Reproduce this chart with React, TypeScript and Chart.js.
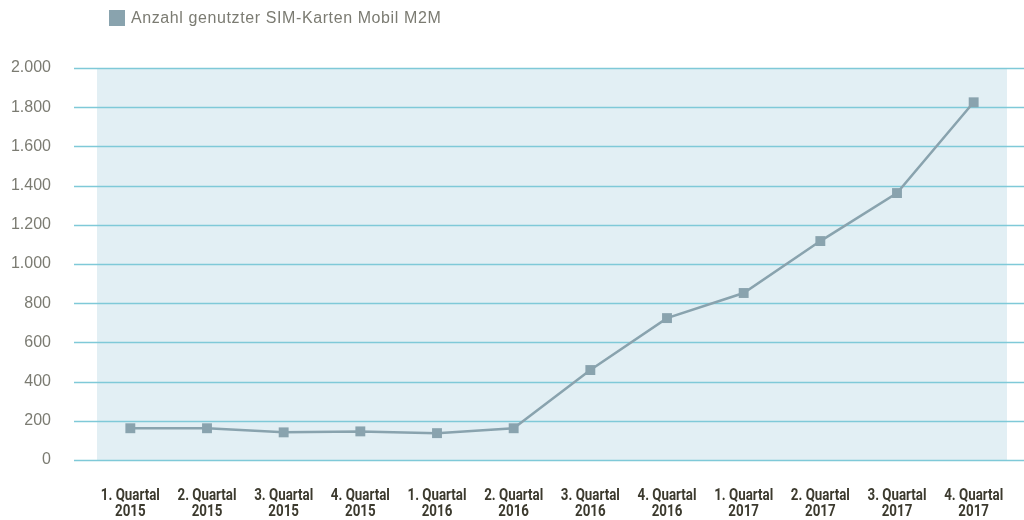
import React, { useEffect, useRef } from "react";
import { Chart, registerables } from "chart.js";

Chart.register(...registerables);

const categories: string[][] = [
  ["1. Quartal", "2015"], ["2. Quartal", "2015"], ["3. Quartal", "2015"], ["4. Quartal", "2015"],
  ["1. Quartal", "2016"], ["2. Quartal", "2016"], ["3. Quartal", "2016"], ["4. Quartal", "2016"],
  ["1. Quartal", "2017"], ["2. Quartal", "2017"], ["3. Quartal", "2017"], ["4. Quartal", "2017"],
];
const seriesName = "Anzahl genutzter SIM-Karten Mobil M2M";
const simCards: number[] = [162, 162, 141, 146, 137, 162, 459, 724, 852, 1117, 1362, 1825];
const yTicks: number[] = [0, 200, 400, 600, 800, 1000, 1200, 1400, 1600, 1800, 2000];

const LINE = "#89a3ae";
const GRID = "#7fc9d8";
const BAND = "#e2eff4";

function fmt(v: number): string {
  const s = Math.round(v).toString();
  return s.replace(/\B(?=(\d{3})+(?!\d))/g, ".");
}

const decorPlugin = {
  id: "decor",
  beforeDatasetsDraw(chart: any) {
    const { ctx, chartArea, scales } = chart;
    ctx.save();
    ctx.fillStyle = BAND;
    ctx.fillRect(97, chartArea.top, 1007 - 97, chartArea.bottom - chartArea.top);
    ctx.strokeStyle = GRID;
    ctx.lineWidth = 1.5;
    for (const t of yTicks) {
      const y = Math.round(scales.y.getPixelForValue(t)) + 0.5;
      ctx.beginPath();
      ctx.moveTo(74, y);
      ctx.lineTo(1024, y);
      ctx.stroke();
    }
    // legend
    ctx.fillStyle = LINE;
    ctx.fillRect(109, 10, 16, 16);
    ctx.fillStyle = "#7b7b72";
    ctx.font = "16px 'Liberation Sans', Arial, sans-serif";
    ctx.textBaseline = "middle";
    ctx.textAlign = "left";
    (ctx as any).letterSpacing = "0.6px";
    ctx.fillText(seriesName, 131, 18.5);
    (ctx as any).letterSpacing = "0px";

    // x category labels (condensed bold)
    ctx.fillStyle = "#3c3a2e";
    ctx.font = "bold 17px Roboto, 'Liberation Sans', sans-serif";
    ctx.textAlign = "center";
    ctx.textBaseline = "alphabetic";
    const sx = 59 / ctx.measureText("1. Quartal").width;
    categories.forEach((lines, i) => {
      const x = scales.x.getPixelForValue(i);
      lines.forEach((line, j) => {
        ctx.save();
        ctx.translate(x, 500 + j * 16);
        ctx.scale(sx, 1);
        ctx.fillText(line, 0, 0);
        ctx.restore();
      });
    });
    ctx.restore();
  },
};

export default function App() {
  const ref = useRef<HTMLCanvasElement | null>(null);
  useEffect(() => {
    if (!ref.current) return;
    const chart = new Chart(ref.current, {
      type: "line",
      data: {
        labels: categories,
        datasets: [
          {
            label: seriesName,
            data: simCards,
            borderColor: LINE,
            backgroundColor: LINE,
            borderWidth: 2.5,
            pointStyle: "rect",
            pointRadius: 7,
            pointBorderWidth: 0,
            pointBackgroundColor: LINE,
            tension: 0,
          },
        ],
      },
      options: {
        animation: false,
        responsive: false,
        maintainAspectRatio: false,
        layout: { padding: { top: 68, right: 12, left: 0, bottom: 0 } },
        plugins: { legend: { display: false }, tooltip: { enabled: false } },
        scales: {
          x: {
            offset: true,
            grid: { display: false },
            border: { display: false },
            ticks: { display: false },
            afterFit(scale: any) {
              scale.height = 60;
            },
          },
          y: {
            min: 0,
            max: 2000,
            grid: { display: false },
            border: { display: false },
            afterBuildTicks(scale: any) {
              scale.ticks = yTicks.map((v) => ({ value: v }));
            },
            ticks: {
              color: "#7b7b72",
              font: { family: "'Liberation Sans', Arial, sans-serif", size: 16 },
              padding: 33,
              callback: (v: any) => fmt(Number(v)),
            },
            afterFit(scale: any) {
              scale.width = 92;
            },
          },
        },
      },
      plugins: [decorPlugin],
    } as any);
    return () => chart.destroy();
  }, []);
  return (
    <div style={{ position: "fixed", left: 0, top: 0, width: 1024, height: 520 }}>
      <canvas ref={ref} width={1024} height={520} style={{ width: 1024, height: 520 }} />
    </div>
  );
}
